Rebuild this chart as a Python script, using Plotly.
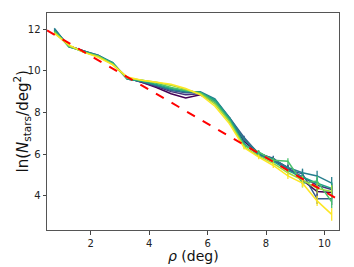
import plotly.graph_objects as go

rho = [0.75, 1.25, 1.75, 2.25, 2.75, 3.25, 3.75, 4.25, 4.75, 5.25,
       5.75, 6.25, 6.75, 7.25, 7.75, 8.25, 8.75, 9.25, 9.75, 10.25]

s0 = [11.9, 11.2, 10.95, 10.7, 10.35, 9.65, 9.45, 9.2, 8.9, 8.7, 8.85, 8.5, 7.7, 6.6, 6.05, 5.75, 5.35, 4.75, 4.2, 4.15]
s1 = [11.95, 11.2, 10.95, 10.7, 10.35, 9.65, 9.45, 9.25, 9.0, 8.85, 8.9, 8.55, 7.7, 6.7, 6.0, 5.7, 5.3, 4.9, 4.5, 4.3]
s2 = [12.0, 11.2, 10.95, 10.75, 10.35, 9.6, 9.5, 9.3, 9.05, 8.95, 8.95, 8.6, 7.75, 6.8, 6.0, 5.8, 5.25, 5.05, 3.85, 3.85]
s3 = [12.05, 11.15, 10.95, 10.75, 10.4, 9.6, 9.5, 9.3, 9.1, 9.0, 9.0, 8.65, 7.75, 6.7, 6.05, 5.75, 5.35, 5.1, 4.95, 4.6]
s4 = [11.95, 11.15, 10.95, 10.7, 10.4, 9.6, 9.5, 9.35, 9.15, 9.05, 8.95, 8.6, 7.7, 6.5, 5.95, 5.65, 5.2, 4.9, 4.6, 4.35]
s5 = [11.9, 11.2, 10.9, 10.7, 10.35, 9.65, 9.55, 9.4, 9.2, 9.05, 8.95, 8.5, 7.6, 6.4, 6.1, 5.7, 5.65, 4.6, 4.7, 3.7]
s6 = [11.85, 11.2, 10.9, 10.7, 10.3, 9.65, 9.55, 9.45, 9.3, 9.1, 8.9, 8.4, 7.55, 6.35, 5.9, 5.55, 5.1, 4.75, 4.35, 4.2]
s7 = [11.8, 11.25, 10.9, 10.65, 10.3, 9.7, 9.55, 9.45, 9.35, 9.15, 8.85, 8.3, 7.45, 6.3, 5.85, 5.45, 4.95, 4.6, 3.75, 3.1]
series = [s0, s1, s2, s3, s4, s5, s6, s7]

errors = [0, 0, 0, 0, 0, 0, 0, 0, 0, 0, 0, 0, 0.03, 0.08, 0.1, 0.12, 0.15, 0.2, 0.25, 0.3]

colors = ["#440154", "#46327e", "#365c8d", "#277f8e", "#1fa187", "#4ac16d", "#a0da39", "#fde725"]

x_title = "<i>ρ</i> (deg)"
y_title = "ln(<i>N</i><sub>stars</sub>/deg<sup>2</sup>)"

fit_intercept = 12.35
fit_slope = -0.815
fit_x = [0.5, 10.5]
fit_y = [fit_intercept + fit_slope * x for x in fit_x]

fig = go.Figure()
for s, c in zip(series, colors):
    fig.add_trace(go.Scatter(
        x=rho, y=s, mode="lines",
        line=dict(color=c, width=1.5),
        error_y=dict(type="data", array=errors, visible=True, color=c, thickness=1.3, width=0),
        showlegend=False, hoverinfo="skip",
    ))
fig.add_trace(go.Scatter(
    x=fit_x, y=fit_y, mode="lines",
    line=dict(color="#ff0000", width=2, dash="dash"),
    showlegend=False, hoverinfo="skip",
))

axis_common = dict(
    showgrid=False, zeroline=False, showline=True, linecolor="#555555", linewidth=1,
    mirror=True, ticks="outside", ticklen=3.5, tickwidth=1, tickcolor="#444444",
    tickfont=dict(family="DejaVu Sans", size=10, color="#222222"),
    automargin=False,
)
fig.update_xaxes(range=[0.5, 10.5], tickvals=[2, 4, 6, 8, 10], **axis_common)
fig.update_yaxes(range=[2.35, 12.78], tickvals=[4, 6, 8, 10, 12], **axis_common)

fig.add_annotation(text=x_title, xref="paper", yref="paper", x=0.5, y=0,
                   xanchor="center", yanchor="middle", yshift=-26, showarrow=False,
                   font=dict(family="DejaVu Sans", size=14, color="#111111"))
fig.add_annotation(text=y_title, xref="paper", yref="paper", x=0, y=0.5,
                   xanchor="center", yanchor="middle", xshift=-25, textangle=-90, showarrow=False,
                   font=dict(family="DejaVu Sans", size=15, color="#111111"))

fig.update_layout(
    width=354, height=267,
    margin=dict(l=47, r=15, t=13, b=37),
    paper_bgcolor="white", plot_bgcolor="white",
)
fig.write_html("out.html", config={"displayModeBar": False},
               post_script="document.body.style.margin='0';document.body.style.overflow='hidden';")
